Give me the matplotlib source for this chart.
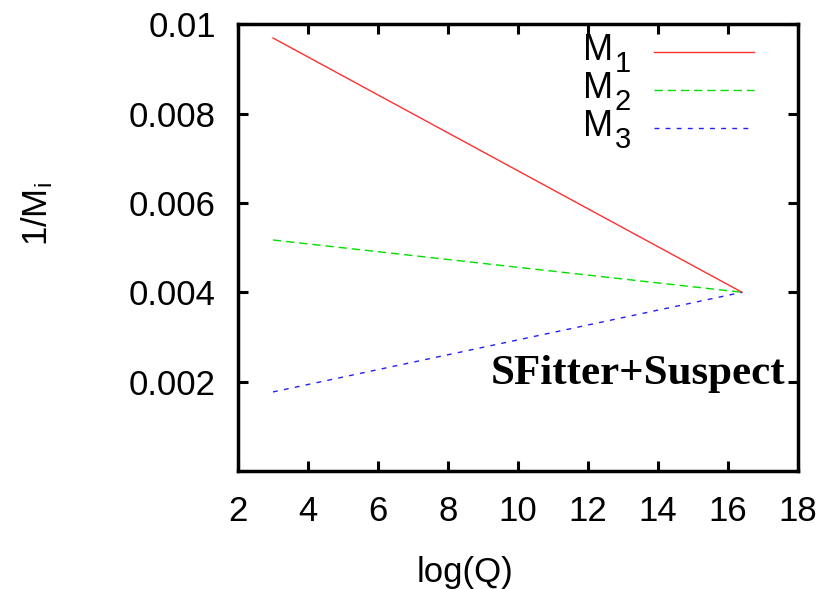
import matplotlib
matplotlib.use("Agg")
import matplotlib.pyplot as plt

plt.rcParams['font.family'] = ['Liberation Sans', 'DejaVu Sans']
plt.rcParams['mathtext.fontset'] = 'custom'
plt.rcParams['mathtext.rm'] = 'Liberation Sans'

# data: log(Q) from low scale to GUT scale
logQ = [3.0, 16.4]
invM1 = [0.00969, 0.0040]
invM2 = [0.00517, 0.0040]
invM3 = [0.00177, 0.0040]
subs = ['1', '2', '3']

fig = plt.figure(figsize=(8.31, 5.89), dpi=100)
ax = fig.add_axes([0.2864, 0.2003, 0.6739, 0.7587])

styles = [
    dict(color='#ff3030', lw=1.0),
    dict(color='#00e000', lw=1.0, dashes=(6, 3.5)),
    dict(color='#2020ff', lw=1.0, dashes=(3.5, 4.5)),
]
series = [invM1, invM2, invM3]
for ys, st in zip(series, styles):
    ax.plot(logQ, ys, **st)

# gnuplot style key: text on the left, sample on the right
key_y = [0.937, 0.852, 0.767]
for ky, sub, st in zip(key_y, subs, styles):
    ax.plot([0.743, 0.921], [ky, ky], transform=ax.transAxes, clip_on=False, **st)
    ax.text(0.6696, ky - 0.0175, 'M', transform=ax.transAxes, ha='right', va='baseline', fontsize=26)
    ax.text(0.673, ky - 0.0444, sub, transform=ax.transAxes, ha='left', va='baseline', fontsize=21)

ax.set_xlim(2, 18)
ax.set_ylim(0, 0.01)
ax.set_xticks(range(2, 19, 2))
ax.set_yticks([0.002, 0.004, 0.006, 0.008, 0.01])
ax.set_yticklabels(['0.002', '0.004', '0.006', '0.008', '0.01'])
ax.tick_params(direction='in', top=True, right=True, length=7, width=2.2, labelsize=25)
ax.tick_params(axis='y', pad=16)
ax.tick_params(axis='x', pad=17)
for s in ax.spines.values():
    s.set_linewidth(2.5)

ax.set_xlabel('log(Q)', fontsize=25, labelpad=14)
ax.xaxis.set_label_coords(0.405, -0.19)
ax.set_ylabel(r'1/M$\mathregular{_i}$', fontsize=25)
ax.yaxis.set_label_coords(-0.327, 0.575)

ax.text(0.977, 0.217, 'SFitter+Suspect', transform=ax.transAxes, ha='right', va='center',
        fontsize=31, fontweight='bold', family='Liberation Serif')

fig.savefig('out.png', dpi=100)
